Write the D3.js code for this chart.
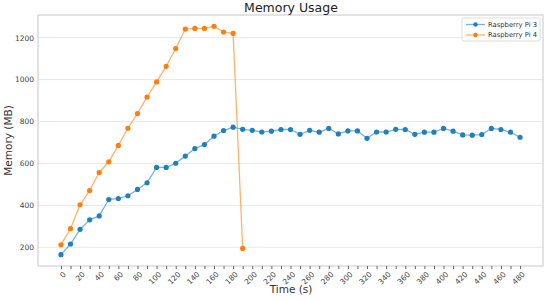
<!DOCTYPE html>
<html><head><meta charset="utf-8">
<script src="https://cdn.jsdelivr.net/npm/d3@7"></script>
<style>body{margin:0;background:#fff;font-family:"DejaVu Sans",sans-serif;}</style>
</head><body><svg id="c" width="550" height="300"></svg>
<script>
const title = "Memory Usage";
const xLabel = "Time (s)";
const yLabel = "Memory (MB)";
const seriesNames = ["Raspberry Pi 3", "Raspberry Pi 4"];
const pi3Time = d3.range(0, 481, 10);
const pi3Mem = [165,216,286,331,350,428,433,446,476,508,581,581,601,635,671,690,730,757,773,763,
  758,750,754,762,762,739,758,749,767,741,755,755,720,750,750,763,762,739,749,749,
  767,754,736,735,738,767,762,749,725];
const pi4Time = d3.range(0, 191, 10);
const pi4Mem = [212,289,403,471,557,608,686,768,838,917,989,1063,1148,1241,1244,1244,1254,1227,1220,195];
const xTicks = d3.range(0, 481, 20);
const xMinorTicks = d3.range(10, 481, 20);
const yTicks = [200,400,600,800,1000,1200];
const colors = ["#1f80c0", "#ff7f0e"];

const svg = d3.select("#c");
const L = 38, R = 543, T = 15, B = 266;
const x = d3.scaleLinear().domain([-24, 504]).range([L, R]);
const y = d3.scaleLinear().domain([111, 1308]).range([B, T]);

// grid
svg.append("g").selectAll("line").data(yTicks).join("line")
  .attr("x1", L).attr("x2", R).attr("y1", d => y(d)).attr("y2", d => y(d))
  .attr("stroke", "#e3e3e3").attr("stroke-width", 0.8);

// frame
svg.append("rect").attr("x", L).attr("y", T).attr("width", R - L).attr("height", B - T)
  .attr("fill", "none").attr("stroke", "#c8c8c8").attr("stroke-width", 1);

// axes
const xa = svg.append("g").attr("transform", `translate(0,${B})`)
  .call(d3.axisBottom(x).tickValues(xTicks).tickSize(3).tickFormat(d3.format("d")));
xa.select(".domain").remove();
xa.selectAll("line").attr("stroke", "#666");
xa.selectAll("text").attr("fill", "#444").style("font-size", "7.5px").style("font-family", "DejaVu Sans")
  .attr("text-anchor", "end").attr("x", 0).attr("y", 0).attr("dy", "0.35em")
  .attr("transform", "translate(3,7) rotate(-45)");
const xm = svg.append("g").attr("transform", `translate(0,${B})`)
  .call(d3.axisBottom(x).tickValues(xMinorTicks).tickSize(3).tickFormat(""));
xm.select(".domain").remove();
xm.selectAll("line").attr("stroke", "#666");

const ya = svg.append("g").attr("transform", `translate(${L},0)`)
  .call(d3.axisLeft(y).tickValues(yTicks).tickSize(0).tickPadding(4).tickFormat(d3.format("d")));
ya.select(".domain").remove();
ya.selectAll("text").attr("fill", "#444").style("font-size", "7.5px").style("font-family", "DejaVu Sans");

// labels
svg.append("text").attr("x", 291).attr("y", 12).attr("text-anchor", "middle")
  .style("font-size", "12.5px").attr("fill", "#222").text(title);
svg.append("text").attr("x", 291).attr("y", 293).attr("text-anchor", "middle")
  .style("font-size", "10.5px").attr("fill", "#333").text(xLabel);
svg.append("text").attr("transform", `translate(12,${(T + B) / 2}) rotate(-90)`).attr("text-anchor", "middle")
  .style("font-size", "10.5px").attr("fill", "#333").text(yLabel);

// series
const series = [
  {t: pi3Time, v: pi3Mem},
  {t: pi4Time, v: pi4Mem}
];
const line = d3.line().x(d => x(d[0])).y(d => y(d[1]));
series.forEach((s, i) => {
  const pts = s.t.map((t, j) => [t, s.v[j]]);
  svg.append("path").datum(pts).attr("d", line).attr("fill", "none")
    .attr("stroke", colors[i]).attr("stroke-opacity", 0.6).attr("stroke-width", 1.3);
  svg.append("g").selectAll("circle").data(pts).join("circle")
    .attr("cx", d => x(d[0])).attr("cy", d => y(d[1])).attr("r", 2.6).attr("fill", colors[i]);
});

// legend
const lg = svg.append("g");
lg.append("rect").attr("x", 462).attr("y", 18).attr("width", 78).attr("height", 23)
  .attr("fill", "#fff").attr("stroke", "#ddd").attr("rx", 2);
seriesNames.forEach((n, i) => {
  const yy = 24.5 + i * 10.5;
  lg.append("line").attr("x1", 466).attr("x2", 485).attr("y1", yy).attr("y2", yy)
    .attr("stroke", colors[i]).attr("stroke-opacity", 0.6).attr("stroke-width", 1.3);
  lg.append("circle").attr("cx", 475.5).attr("cy", yy).attr("r", 2.2).attr("fill", colors[i]);
  lg.append("text").attr("x", 488).attr("y", yy + 2.4).style("font-size", "6.8px")
    .attr("fill", "#333").text(n);
});
</script></body></html>
